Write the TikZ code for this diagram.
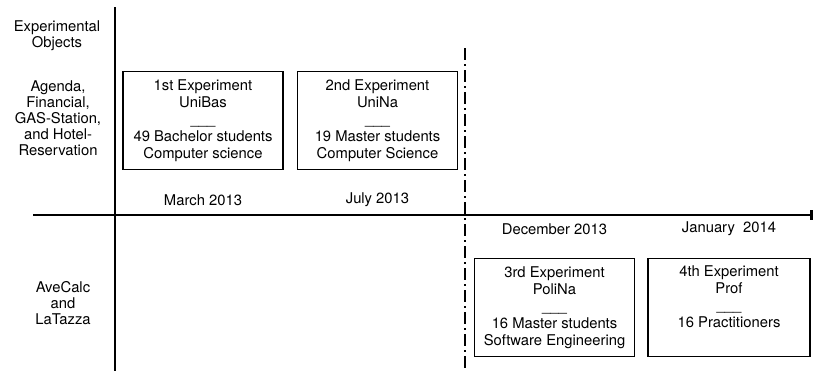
\documentclass[tikz,border=0pt]{standalone}
\usepackage{fontspec}
\setmainfont{TeX Gyre Heros}
\usetikzlibrary{arrows.meta}
\begin{document}
\begin{tikzpicture}[x=0.75pt,y=-0.75pt,
  every node/.style={font=\fontsize{11.1}{12.75}\selectfont, align=center, inner sep=0pt},
  expbox/.style={draw, line width=0.85pt, minimum width=120pt, minimum height=74pt},
  sidelabel/.style={font=\fontsize{11.1}{12}\selectfont},
  axisline/.style={line width=0.85pt},
  datelabel/.style={anchor=center}]
\useasboundingbox (0,0) rectangle (814,371);
% axes
\coordinate (vtop) at (115,7);
\coordinate (vbot) at (115,371);
\coordinate (hl) at (33,215);
\coordinate (hr) at (813,215);
\coordinate (dtop) at (465,48);
\coordinate (dbot) at (465,371);
\draw[axisline] (vtop) -- (vbot);
\draw[axisline, -{Bar[width=7pt,line width=2pt]}] (hl) -- (hr);
\draw[axisline, dash pattern=on 9pt off 3pt on 1.5pt off 3pt] (dtop) -- (dbot);
% side labels
\node[sidelabel] (objs) at (57,36) {Experimental\\Objects};
\node[sidelabel] (grp1) at (58,118) {Agenda,\\Financial,\\GAS-Station,\\and Hotel-\\Reservation};
\node[sidelabel] (grp2) at (63,303) {AveCalc\\and\\LaTazza};
% boxes
\node[expbox] (e1) at (203,120.5) {1st Experiment\\UniBas\\\_\_\_\\49 Bachelor students\\Computer science};
\node[expbox] (e2) at (377.5,120.5) {2nd Experiment\\UniNa\\\_\_\_\\19 Master students\\Computer Science};
\node[expbox] (e3) at (554.5,307.5) {3rd Experiment\\PoliNa\\\_\_\_\\16 Master students\\Software Engineering};
\node[expbox, minimum width=121.5pt] (e4) at (729,307.5) {4th Experiment\\Prof\\\_\_\_\\16 Practitioners\\\strut};
% dates
\node[datelabel] (d1) at (203,200) {March 2013};
\node[datelabel] (d2) at (377.5,200) {July 2013};
\node[datelabel] (d3) at (554.5,229) {December 2013};
\node[datelabel] (d4) at (729,229) {January\ \ 2014};
\end{tikzpicture}
\end{document}
